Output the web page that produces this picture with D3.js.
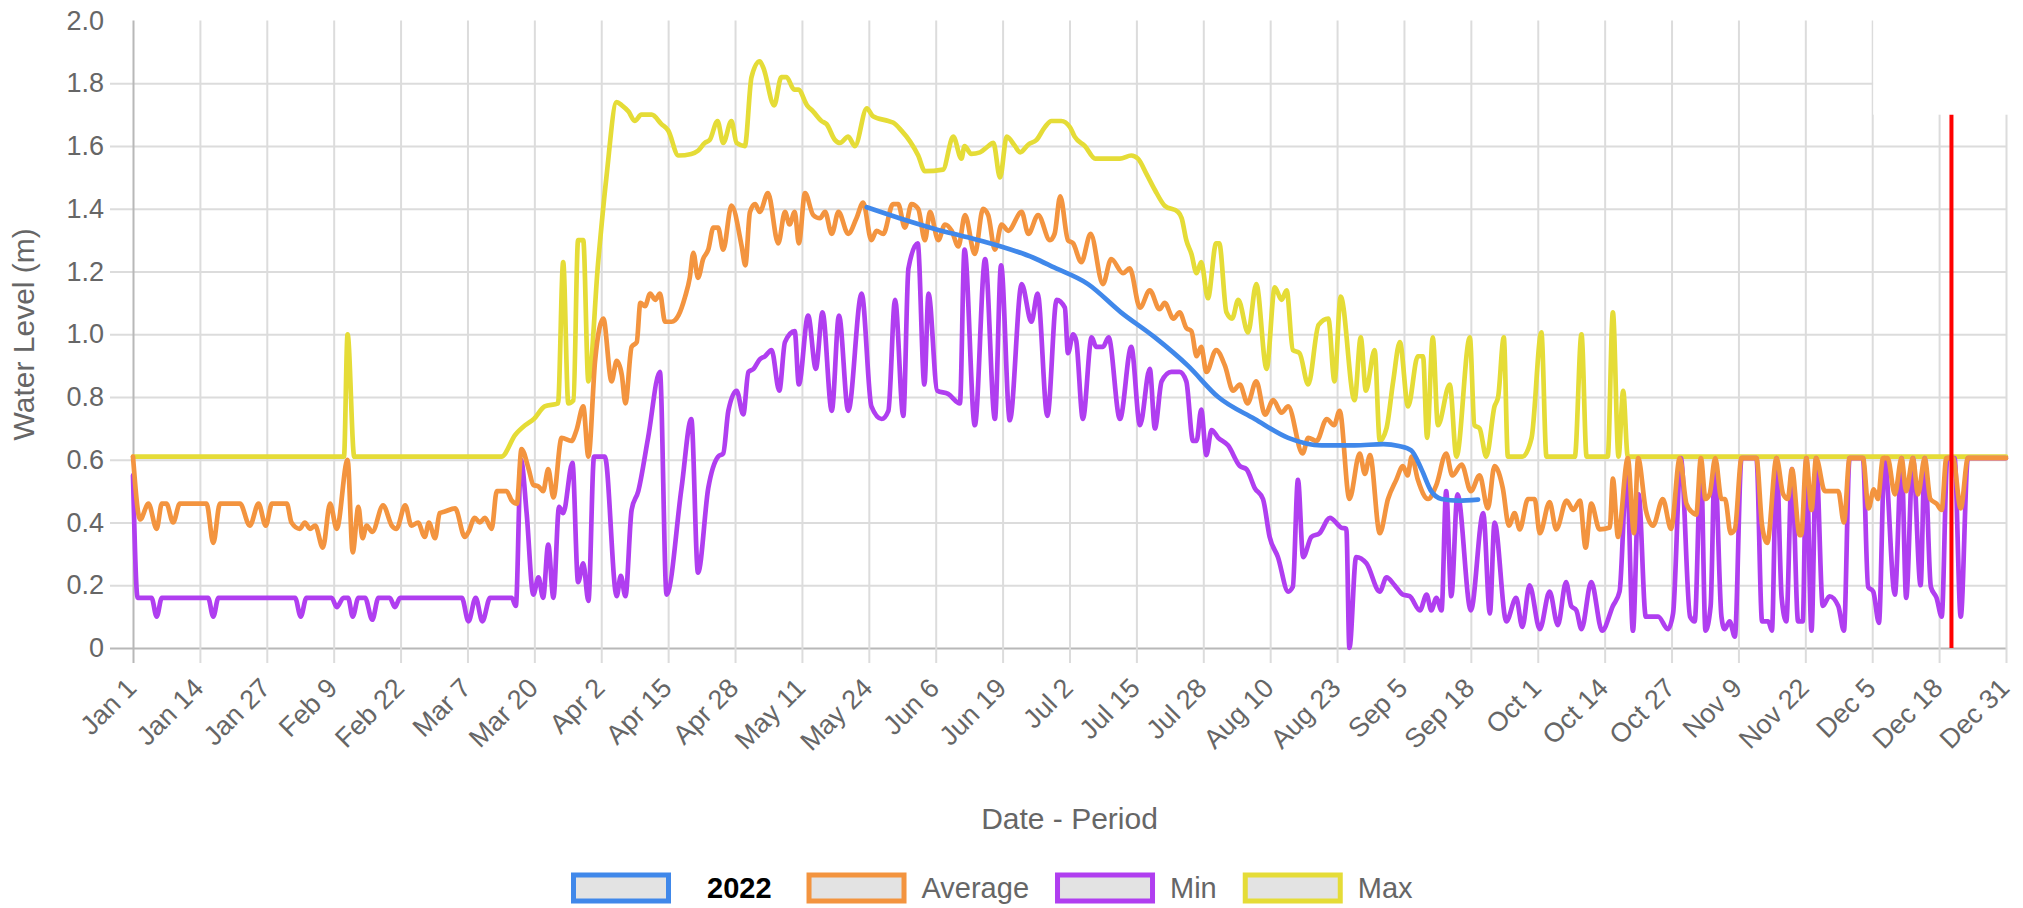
<html>
<head>
    <title>Water level by day</title>
    <script type="text/javascript" src="https://d3js.org/d3.v7.min.js"></script>
    <style>
        body {
            margin: 0;
            background: white;
            font-family: "Liberation Sans", Arial, Helvetica, sans-serif;
        }

        .grid line {
            stroke: #dcdcdc;
            stroke-width: 2px;
        }

        .grid .axis-line line {
            stroke: #b8b8b8;
        }

        .grid text {
            fill: #666;
            font-size: 27px;
            font-family: "Liberation Sans", Arial, Helvetica, sans-serif;
        }

        .series {
            fill: none;
            stroke-width: 4.7px;
            stroke-linejoin: round;
            stroke-linecap: round;
        }

        .title {
            fill: #666;
            font-size: 30px;
        }

        .legend text {
            font-size: 29px;
            fill: #666;
        }
    </style>
</head>
<body>
<div id="chart"></div>

<script>
    // x axis: day index from Jan 1 (0) to Dec 31 (364), labelled every 13 days
    var tickLabels = ["Jan 1", "Jan 14", "Jan 27", "Feb 9", "Feb 22", "Mar 7", "Mar 20", "Apr 2", "Apr 15",
        "Apr 28", "May 11", "May 24", "Jun 6", "Jun 19", "Jul 2", "Jul 15", "Jul 28", "Aug 10", "Aug 23",
        "Sep 5", "Sep 18", "Oct 1", "Oct 14", "Oct 27", "Nov 9", "Nov 22", "Dec 5", "Dec 18", "Dec 31"];
    var tickDays = tickLabels.map(function (d, i) { return i * 13; });
    var yTicks = [0, 0.2, 0.4, 0.6, 0.8, 1.0, 1.2, 1.4, 1.6, 1.8, 2.0];

    // [day, water level (m)]
    var year2022 = [[142.6, 1.405], [149, 1.37], [156, 1.335], [162, 1.31], [168.7, 1.28], [175, 1.244],
        [179, 1.213], [185.6, 1.16], [192, 1.07], [198.6, 0.99], [205, 0.90], [210.9, 0.80], [218, 0.73],
        [224.5, 0.67], [231, 0.646], [237.4, 0.646], [243, 0.65], [246, 0.644], [248.4, 0.63], [250.4, 0.57],
        [252.3, 0.50], [254.3, 0.475], [257.5, 0.47], [261.4, 0.473]];

    var average = [[0, 0.61], [1.4, 0.41], [3, 0.46], [4.6, 0.38], [5.6, 0.46], [6.5, 0.46], [7.8, 0.40], [9.1, 0.46],
        [14.3, 0.46], [15.6, 0.335], [16.9, 0.46], [20.8, 0.46], [22.7, 0.39], [24.4, 0.46], [25.8, 0.39], [27, 0.46],
        [29.9, 0.46], [30.8, 0.40], [32.4, 0.38], [33.4, 0.40], [34.4, 0.38], [35.4, 0.39], [36.9, 0.32], [38.3, 0.46],
        [39.6, 0.38], [41.7, 0.60], [42.7, 0.305], [43.8, 0.45], [44.6, 0.35], [45.4, 0.39], [46.5, 0.37], [48.6, 0.455],
        [50.3, 0.39], [51.2, 0.38], [52.9, 0.455], [54.1, 0.39], [55.4, 0.40], [56.7, 0.354], [57.5, 0.40], [58.7, 0.35],
        [59.6, 0.43], [60.6, 0.435], [62.6, 0.445], [64.5, 0.354], [65.2, 0.37], [66.4, 0.415], [67.4, 0.40],
        [68.4, 0.415], [69.7, 0.38], [70.7, 0.50], [72.6, 0.50], [73.6, 0.47], [74.6, 0.46], [75.5, 0.634],
        [76.9, 0.57], [77.8, 0.52], [78.8, 0.515], [79.7, 0.50], [80.7, 0.57], [81.7, 0.48], [83.3, 0.67],
        [85.2, 0.66], [86.2, 0.695], [87.5, 0.77], [88.5, 0.61], [89.8, 0.915], [91.4, 1.05], [93, 0.85], [94, 0.915],
        [95, 0.87], [95.7, 0.78], [96.9, 0.96], [97.9, 0.975], [98.6, 1.10], [99.5, 1.09], [100.5, 1.13], [101.5, 1.11],
        [102.4, 1.13], [103.4, 1.04], [104.7, 1.04], [106, 1.06], [107.3, 1.12], [108.2, 1.18], [108.9, 1.26],
        [109.8, 1.18], [110.8, 1.24], [111.8, 1.27], [112.8, 1.34], [113.7, 1.34], [114.7, 1.27], [116.3, 1.41],
        [118.3, 1.28], [119, 1.22], [119.9, 1.39], [120.9, 1.415], [121.8, 1.39], [123.4, 1.45], [125.4, 1.29],
        [126.7, 1.39], [127.6, 1.35], [128.6, 1.39], [129.4, 1.29], [130.6, 1.45], [132.2, 1.38], [133.5, 1.37],
        [134.5, 1.39], [135.8, 1.32], [137.1, 1.39], [139, 1.32], [140.6, 1.37], [141.9, 1.42], [143.5, 1.30],
        [144.5, 1.33], [145.8, 1.32], [147.7, 1.415], [148.7, 1.415], [150, 1.34], [151.3, 1.415], [152.6, 1.40],
        [153.9, 1.30], [154.9, 1.39], [156.5, 1.30], [157.8, 1.35], [159.1, 1.33], [160.4, 1.28], [161.7, 1.38],
        [163.6, 1.256], [165.2, 1.40], [166.2, 1.38], [167.5, 1.27], [168.8, 1.35], [170.1, 1.33], [172.7, 1.39],
        [174, 1.32], [175.9, 1.38], [178.2, 1.30], [179.1, 1.32], [180.2, 1.44], [181.7, 1.30], [182.7, 1.29],
        [184.3, 1.23], [186.1, 1.32], [188.5, 1.16], [190.1, 1.24], [192.4, 1.195], [193.7, 1.21], [195.7, 1.085],
        [197.6, 1.14], [199.5, 1.08], [200.5, 1.10], [202.2, 1.05], [203.4, 1.07], [204.7, 1.02], [205.7, 1.01],
        [206.7, 0.93], [207.6, 0.96], [208.6, 0.88], [210.5, 0.95], [212.2, 0.90], [213.8, 0.82], [215.1, 0.84],
        [216.6, 0.78], [218.3, 0.85], [220, 0.744], [221.6, 0.79], [223.2, 0.75], [224.5, 0.77], [227.3, 0.62],
        [228.4, 0.67], [230, 0.66], [232, 0.73], [233.4, 0.71], [234.5, 0.756], [236.4, 0.475], [238.4, 0.62],
        [239.4, 0.555], [240.4, 0.615], [242.3, 0.366], [243.9, 0.475], [245.5, 0.536], [246.8, 0.58], [247.7, 0.55],
        [248.5, 0.61], [249.7, 0.536], [251.7, 0.475], [253.3, 0.52], [255.2, 0.62], [256.4, 0.55], [258.2, 0.585],
        [260, 0.50], [261.7, 0.55], [263.3, 0.445], [264.6, 0.58], [266.2, 0.51], [267.4, 0.39], [268.5, 0.43],
        [269.5, 0.378], [271.1, 0.475], [272.4, 0.475], [273.4, 0.366], [275.3, 0.465], [276.6, 0.378],
        [278.6, 0.47], [279.9, 0.44], [281.2, 0.47], [282.3, 0.32], [283.4, 0.46], [285, 0.378], [287, 0.384],
        [287.6, 0.54], [288.6, 0.354], [290.5, 0.605], [291.7, 0.366], [292.5, 0.605], [294, 0.44], [295.4, 0.39],
        [297.3, 0.475], [298.9, 0.38], [300.6, 0.605], [301.9, 0.46], [303.2, 0.43], [303.8, 0.425], [304.7, 0.605],
        [305.6, 0.475], [306.4, 0.49], [307.5, 0.605], [308.7, 0.475], [309.4, 0.475], [310.5, 0.366],
        [311.3, 0.378], [312.6, 0.605], [315.5, 0.605], [316.6, 0.39], [317.6, 0.335], [319.4, 0.605],
        [320.7, 0.49], [321.6, 0.475], [322.4, 0.57], [323.9, 0.36], [324.2, 0.36], [325.2, 0.605], [326.2, 0.44],
        [327.1, 0.605], [328.8, 0.50], [331.4, 0.50], [332.5, 0.40], [333.6, 0.605], [336.2, 0.605], [337.3, 0.445],
        [338.3, 0.506], [339.1, 0.475], [340.1, 0.605], [341, 0.605], [342.4, 0.49], [343.7, 0.605], [344.6, 0.50],
        [345.9, 0.605], [346.9, 0.49], [348.2, 0.605], [349.3, 0.475], [350.5, 0.46], [351.5, 0.44], [352.4, 0.605],
        [353.7, 0.605], [355.2, 0.445], [356.6, 0.605], [364, 0.605]];

    var minimum = [[0, 0.55], [0.9, 0.16], [3.6, 0.16], [4.6, 0.10], [5.6, 0.16], [14.6, 0.16], [15.6, 0.10],
        [16.6, 0.16], [31.5, 0.16], [32.6, 0.10], [33.7, 0.16], [38.6, 0.16], [39.6, 0.13], [40.9, 0.16],
        [41.8, 0.16], [42.7, 0.10], [43.8, 0.16], [45.1, 0.16], [46.5, 0.09], [47.7, 0.16], [49.9, 0.16],
        [50.9, 0.13], [51.9, 0.16], [63.9, 0.16], [65.2, 0.085], [66.6, 0.16], [67.9, 0.085], [69.4, 0.16],
        [73.6, 0.16], [74.4, 0.134], [75.4, 0.60], [76.5, 0.43], [77.8, 0.17], [78.8, 0.225], [79.7, 0.16],
        [80.7, 0.33], [81.7, 0.16], [82.8, 0.45], [83.6, 0.43], [85.4, 0.59], [86.5, 0.21], [87.5, 0.27],
        [88.5, 0.15], [89.6, 0.61], [91.7, 0.61], [94, 0.165], [94.8, 0.23], [95.7, 0.165], [96.9, 0.44],
        [98.2, 0.50], [100.1, 0.67], [102.4, 0.88], [103.7, 0.17], [106.6, 0.51], [108.5, 0.73], [109.8, 0.24],
        [111.8, 0.51], [113.7, 0.61], [114.7, 0.62], [115.7, 0.756], [117.3, 0.82], [118.6, 0.745], [119.6, 0.88],
        [120.6, 0.89], [121.8, 0.92], [122.8, 0.93], [124.1, 0.95], [125.6, 0.82], [126.7, 0.975], [128.6, 1.01],
        [129.4, 0.84], [131.2, 1.06], [132.7, 0.89], [134, 1.07], [135.8, 0.756], [137.2, 1.06], [139, 0.756],
        [141.6, 1.13], [143.5, 0.77], [145.5, 0.73], [146.8, 0.756], [148.1, 1.11], [149.7, 0.74], [150.7, 1.21],
        [152.5, 1.29], [153.8, 0.84], [154.6, 1.13], [156.3, 0.82], [158.4, 0.81], [160.7, 0.78], [161.6, 1.27],
        [163.6, 0.71], [165.6, 1.24], [167.5, 0.73], [168.7, 1.22], [170.4, 0.726], [172.7, 1.16], [174.6, 1.04],
        [175.8, 1.13], [177.7, 0.74], [179.5, 1.11], [181.1, 1.085], [181.7, 0.94], [182.7, 1.00], [183.3, 0.98],
        [184.6, 0.73], [186.3, 0.99], [187.2, 0.96], [188.5, 0.96], [189.6, 0.99], [191.8, 0.73], [194, 0.96],
        [195.7, 0.71], [197.6, 0.89], [198.6, 0.70], [199.9, 0.85], [201.8, 0.88], [203.4, 0.88], [204.7, 0.85],
        [206, 0.66], [206.7, 0.66], [207.6, 0.76], [208.6, 0.615], [209.6, 0.695], [210.9, 0.67], [212.8, 0.646],
        [215.1, 0.58], [216.4, 0.57], [218, 0.51], [219.6, 0.475], [220.9, 0.354], [222.5, 0.29], [224.5, 0.18],
        [225.4, 0.195], [226.4, 0.536], [227.4, 0.29], [229, 0.354], [230.6, 0.366], [232.6, 0.415], [234.8, 0.384],
        [235.8, 0.38], [236.4, 0.0], [237.7, 0.29], [239.7, 0.27], [242.3, 0.18], [243.6, 0.225], [245.2, 0.20],
        [246.8, 0.17], [248.1, 0.165], [250.1, 0.12], [251.4, 0.17], [252.3, 0.12], [253.3, 0.16], [254.3, 0.12],
        [255.2, 0.50], [256.2, 0.165], [257.4, 0.49], [260, 0.12], [262.4, 0.43], [263.7, 0.11], [264.6, 0.40],
        [266.9, 0.085], [268.8, 0.16], [270, 0.067], [271.4, 0.20], [273.4, 0.06], [275.3, 0.18], [276.9, 0.073],
        [278.5, 0.21], [279.5, 0.134], [280.5, 0.12], [281.5, 0.06], [283.4, 0.21], [285.5, 0.055], [287.6, 0.134],
        [288.9, 0.18], [290.3, 0.57], [291.5, 0.055], [292.6, 0.49], [294, 0.10], [296.4, 0.10], [298.3, 0.06],
        [299.3, 0.11], [300.8, 0.605], [302.6, 0.10], [303.5, 0.085], [304.7, 0.59], [305.6, 0.055], [306.6, 0.134],
        [307.4, 0.59], [308.7, 0.10], [309.3, 0.06], [310.3, 0.085], [311.3, 0.036], [312.6, 0.605], [315.5, 0.605],
        [316.6, 0.085], [317.8, 0.085], [318.5, 0.055], [319.4, 0.605], [320.4, 0.16], [321.3, 0.085], [322.4, 0.57],
        [323.6, 0.085], [324.5, 0.085], [325.2, 0.605], [326.2, 0.055], [327.1, 0.605], [328.4, 0.134],
        [329.7, 0.165], [331.4, 0.134], [332.5, 0.055], [333.6, 0.605], [336.2, 0.605], [337.2, 0.195],
        [338.2, 0.18], [339.3, 0.08], [340.4, 0.605], [342.4, 0.17], [343.7, 0.605], [344.6, 0.16], [345.9, 0.605],
        [347.4, 0.20], [348.2, 0.605], [349.4, 0.195], [350.5, 0.16], [351.5, 0.10], [352.6, 0.605], [354, 0.605],
        [355.2, 0.10], [356.6, 0.605], [364, 0.605]];

    var maximum = [[0, 0.61], [41, 0.61], [41.7, 1.0], [43, 0.61], [71.6, 0.61], [74.3, 0.68], [76.2, 0.71],
        [77.9, 0.73], [80, 0.77], [82.6, 0.78], [83.6, 1.23], [84.6, 0.78], [85.6, 0.79], [86.5, 1.30], [87.5, 1.30],
        [88.5, 0.85], [90.4, 1.23], [92, 1.50], [94, 1.74], [95, 1.73], [96.3, 1.71], [97.5, 1.68], [98.8, 1.70],
        [100.8, 1.70], [102.7, 1.67], [104, 1.65], [106, 1.57], [108.5, 1.575], [109.8, 1.585], [111.1, 1.61],
        [112.1, 1.62], [113.6, 1.68], [114.7, 1.61], [116.3, 1.68], [117.3, 1.61], [118.9, 1.60], [120.2, 1.82],
        [121.8, 1.87], [122.5, 1.85], [124.6, 1.73], [126, 1.82], [127, 1.82], [128.5, 1.78], [129.3, 1.78],
        [131, 1.73], [132.2, 1.71], [133.8, 1.68], [134.8, 1.67], [136.4, 1.62], [137.4, 1.61], [139, 1.63],
        [140.3, 1.60], [142.6, 1.72], [143.8, 1.695], [146.8, 1.68], [147.7, 1.675], [149.3, 1.65], [151, 1.615],
        [152.6, 1.57], [153.9, 1.52], [157.4, 1.525], [159.4, 1.63], [161, 1.56], [161.6, 1.60], [162.9, 1.575],
        [164.6, 1.58], [166.2, 1.60], [167.2, 1.61], [168.5, 1.50], [169.8, 1.63], [171.4, 1.60], [172.4, 1.58],
        [174, 1.605], [175.6, 1.62], [177.2, 1.66], [178.5, 1.68], [180.4, 1.68], [182.1, 1.66], [183, 1.63],
        [185, 1.60], [187, 1.56], [191.8, 1.56], [194, 1.57], [195.3, 1.56], [197, 1.51], [198.6, 1.46],
        [200.5, 1.41], [203.1, 1.39], [203.8, 1.37], [204.7, 1.30], [205.7, 1.256], [206.7, 1.195], [207.6, 1.23],
        [208.9, 1.115], [210.5, 1.29], [211.1, 1.29], [212.5, 1.07], [213.6, 1.05], [214.8, 1.11], [216.7, 1.006],
        [218.3, 1.16], [220.3, 0.89], [221.9, 1.15], [223.2, 1.11], [224.2, 1.14], [225.4, 0.95], [226.7, 0.94],
        [228.4, 0.84], [230.4, 1.03], [232.3, 1.05], [233.5, 0.85], [234.7, 1.12], [237.4, 0.79], [238.6, 0.99],
        [239.6, 0.82], [241.3, 0.95], [242.3, 0.66], [243.6, 0.70], [244.9, 0.85], [246.2, 0.975], [247.8, 0.77],
        [249.7, 0.93], [250.7, 0.93], [251.5, 0.67], [252.6, 0.99], [253.6, 0.71], [255.9, 0.84], [257.2, 0.61],
        [259.8, 0.99], [260.7, 0.71], [261.7, 0.70], [263, 0.61], [264.6, 0.77], [265.3, 0.80], [266.4, 0.99],
        [267.2, 0.61], [270, 0.61], [271.8, 0.67], [273.7, 1.006], [274.7, 0.61], [280.2, 0.61], [281.5, 1.0],
        [282.5, 0.61], [286.6, 0.61], [287.6, 1.07], [288.7, 0.61], [289.6, 0.82], [290.5, 0.61], [364, 0.61]];

    // red "today" marker: day and height
    var markerDay = 353.4;
    var markerTop = 1.7;

    var series = [
        {name: "Max", data: maximum, color: "#e5dc37"},
        {name: "Min", data: minimum, color: "#b03ef0"},
        {name: "Average", data: average, color: "#f3943f"},
        {name: "2022", data: year2022, color: "#4088ea"}
    ];
    var legendOrder = ["2022", "Average", "Min", "Max"];

    var width = 2023, height = 908;
    var plot = {left: 133, right: 2006, top: 20.6, bottom: 648};

    var svg = d3.select("#chart")
        .append("svg")
        .attr("width", width)
        .attr("height", height);

    var x = d3.scaleLinear().domain([0, 364]).range([plot.left, plot.right]);
    var y = d3.scaleLinear().domain([0, 2]).range([plot.bottom, plot.top]);

    // horizontal grid + y labels
    var yAxis = d3.axisLeft(y)
        .tickValues(yTicks)
        .tickFormat(function (d) { return d === 0 ? "0" : d.toFixed(1); })
        .tickSize(-(plot.right - 110))
        .tickPadding(6);

    var gy = svg.append("g")
        .attr("class", "grid")
        .attr("transform", "translate(110,0)")
        .call(yAxis);
    gy.select(".domain").remove();
    gy.selectAll(".tick").filter(function (d) { return d === 2; }).select("line").remove();
    gy.selectAll(".tick").filter(function (d) { return d === 0; }).classed("axis-line", true);

    // vertical grid + x labels
    var xAxis = d3.axisBottom(x)
        .tickValues(tickDays)
        .tickFormat(function (d, i) { return tickLabels[i]; })
        .tickSize(-(663 - plot.top));

    var gx = svg.append("g")
        .attr("class", "grid")
        .attr("transform", "translate(0,663)")
        .call(xAxis);
    gx.select(".domain").remove();
    gx.selectAll(".tick").filter(function (d) { return d === 0; }).classed("axis-line", true);
    gx.selectAll(".tick text")
        .attr("y", 0)
        .attr("dy", "0.35em")
        .attr("text-anchor", "end")
        .attr("transform", "translate(-2,20) rotate(-45)");

    // blank patch in the top right corner
    svg.append("rect")
        .attr("x", x(tickDays[26]) + 1)
        .attr("y", 0)
        .attr("width", width - x(tickDays[26]) - 1)
        .attr("height", y(markerTop))
        .attr("fill", "white");

    var line = d3.line()
        .x(function (d) { return x(d[0]); })
        .y(function (d) { return y(d[1]); })
        .curve(d3.curveMonotoneX);

    svg.append("g")
        .selectAll("path")
        .data(series)
        .join("path")
        .attr("class", "series")
        .attr("stroke", function (d) { return d.color; })
        .attr("d", function (d) { return line(d.data); });

    svg.append("line")
        .attr("x1", x(markerDay))
        .attr("x2", x(markerDay))
        .attr("y1", y(markerTop))
        .attr("y2", y(0))
        .attr("stroke", "#ff0000")
        .attr("stroke-width", 4);

    // axis titles
    svg.append("text")
        .attr("class", "title")
        .attr("text-anchor", "middle")
        .attr("dominant-baseline", "central")
        .attr("transform", "translate(23," + ((plot.top + plot.bottom) / 2) + ") rotate(-90)")
        .text("Water Level (m)");

    svg.append("text")
        .attr("class", "title")
        .attr("text-anchor", "middle")
        .attr("dominant-baseline", "central")
        .attr("x", (plot.left + plot.right) / 2)
        .attr("y", 818)
        .text("Date - Period");

    // legend
    var legend = svg.append("g").attr("class", "legend");
    var lx = 571, boxW = 100, boxH = 31, ly = 888;
    legendOrder.forEach(function (name) {
        var s = series.filter(function (d) { return d.name === name; })[0];
        var bold = name === "2022";
        legend.append("rect")
            .attr("x", lx + 2.5)
            .attr("y", ly - boxH / 2 + 2.5)
            .attr("width", boxW - 5)
            .attr("height", boxH - 5)
            .attr("fill", "#e3e3e3")
            .attr("stroke", s.color)
            .attr("stroke-width", 5);
        var t = legend.append("text")
            .attr("x", lx + boxW + (bold ? 36 : 15))
            .attr("y", ly)
            .attr("dominant-baseline", "central")
            .style("font-weight", bold ? "bold" : "normal")
            .style("fill", bold ? "#000" : "#666")
            .text(name);
        lx = lx + boxW + (bold ? 36 : 15) + t.node().getComputedTextLength() + (bold ? 35 : 26);
    });
</script>
</body>
</html>
